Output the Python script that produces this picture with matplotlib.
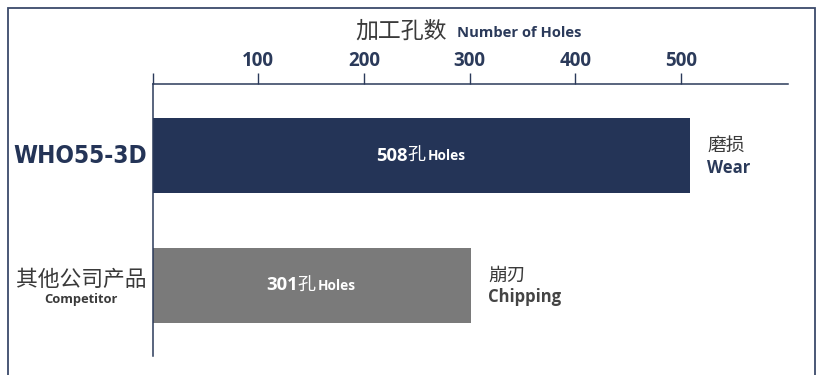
import matplotlib
matplotlib.use("Agg")
import matplotlib.pyplot as plt
from matplotlib.patches import Rectangle

categories = ["WHO55-3D", "其他公司产品"]
category_sub = ["", "Competitor"]
values = [508, 301]
failure_cn = ["磨损", "崩刃"]
failure_en = ["Wear", "Chipping"]
ticks = [0, 100, 200, 300, 400, 500]
tick_labels = ["", "100", "200", "300", "400", "500"]

NAVY = "#243457"
GRAY = "#7a7a7a"
TXT = "#2b3a5a"
CN = "#3a3a3a"
LAT = ["Open Sans", "DejaVu Sans"]
CJK = ["Noto Sans CJK SC", "DejaVu Sans"]

W, H = 817, 375
fig = plt.figure(figsize=(W / 100, H / 100), dpi=100)

def fx(px):
    return px / W

def fy(py):
    return 1 - py / H

# border
fig.patches.append(Rectangle((fx(8), fy(400)), fx(815) - fx(8), fy(8) - fy(400),
                             transform=fig.transFigure, fill=False,
                             edgecolor="#3b4a6b", linewidth=1.3, clip_on=False))

ax_l, ax_r, ax_t, ax_b = 152.6, 788, 84, 356
ax = fig.add_axes([fx(ax_l), fy(ax_b), fx(ax_r) - fx(ax_l), fy(ax_t) - fy(ax_b)])
ax.set_xlim(0, 601)
unit = 129.8
ax.set_ylim(1 + (272 - 201.5) / unit, -71.7 / unit)

ypos = list(range(len(categories)))
colors = [NAVY, GRAY]
ax.barh(ypos, values, height=75 / unit, color=colors, left=0)

for s in ["right", "bottom"]:
    ax.spines[s].set_visible(False)
for s in ["top", "left"]:
    ax.spines[s].set_color(TXT)
    ax.spines[s].set_linewidth(1.1)
ax.xaxis.tick_top()
ax.set_xticks(ticks)
ax.set_xticklabels(tick_labels, fontfamily=LAT, fontweight="bold", fontsize=13.5, color=TXT)
ax.tick_params(axis="x", direction="out", length=8, width=1.0, color=TXT, pad=1)
ax.set_yticks([])

# title
fig.text(fx(447), fy(31), "加工孔数", ha="right", va="center", fontfamily=CJK,
         fontsize=16.5, color=CN)
fig.text(fx(457), fy(33), "Number of Holes", ha="left", va="center", fontfamily=LAT,
         fontweight="bold", fontsize=10.6, color=TXT)

# category labels
fig.text(fx(80), fy(156), categories[0], ha="center", va="center",
         fontfamily="DejaVu Sans", fontstretch="condensed", fontweight="bold",
         fontsize=17.5, color=NAVY)
fig.text(fx(81), fy(280), categories[1], ha="center", va="center", fontfamily=CJK,
         fontsize=15.7, color=CN)
fig.text(fx(81), fy(300), category_sub[1], ha="center", va="center", fontfamily=LAT,
         fontweight="bold", fontsize=9.3, color=CN)

# in-bar labels
for i, v in enumerate(values):
    cx = v / 2
    ax.annotate(f"{v}", xy=(cx, i), xytext=(-10, 0), textcoords="offset points",
                ha="right", va="center", fontfamily=LAT, fontweight="bold",
                fontsize=13.3, color="white")
    ax.annotate("孔", xy=(cx, i), xytext=(-10, 0), textcoords="offset points",
                ha="left", va="center", fontfamily=CJK, fontsize=13, color="white")
    ax.annotate("Holes", xy=(cx, i), xytext=(4.5, -0.5), textcoords="offset points",
                ha="left", va="center", fontfamily=LAT, fontweight="bold",
                fontsize=9.8, color="white")

# failure labels
for i, v in enumerate(values):
    ax.annotate(failure_cn[i], xy=(v, i), xytext=(12.5, 7.5), textcoords="offset points",
                ha="left", va="center", fontfamily=CJK, fontsize=13.5, color=CN)
    ax.annotate(failure_en[i], xy=(v, i), xytext=(12.5, -8.5), textcoords="offset points",
                ha="left", va="center", fontfamily=LAT, fontweight="bold",
                fontsize=12, color=TXT if i == 0 else "#444444")

fig.savefig("out.png", dpi=100)
